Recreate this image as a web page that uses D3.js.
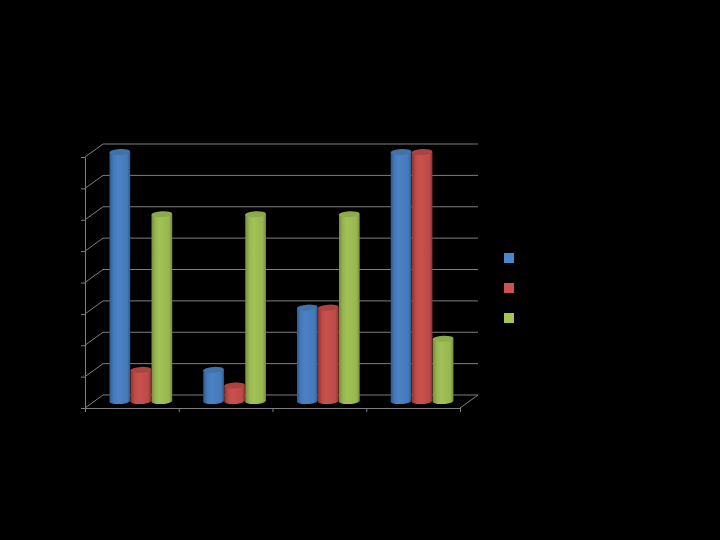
<!DOCTYPE html>
<html><head><meta charset="utf-8">
<script src="https://cdn.jsdelivr.net/npm/d3@7/dist/d3.min.js"></script>
<style>html,body{margin:0;padding:0;background:#000;overflow:hidden}svg{display:block}</style>
</head><body><svg id="c" width="720" height="540"></svg>
<script>
const categories = ["Category 1","Category 2","Category 3","Category 4"];
const seriesNames = ["Series 1","Series 2","Series 3"];
const series1 = [8,1,3,8];
const series2 = [1,0.5,3,8];
const series3 = [6,6,6,2];
const valueTicks = [0,1,2,3,4,5,6,7,8];
const seriesValues = [series1,series2,series3];
const colors = [
 {dark:"#2c5a8e",mid:"#4a82c4",light:"#457aba",top:"#4272aa"},
 {dark:"#8a3331",mid:"#c9514d",light:"#bc4b47",top:"#ac4340"},
 {dark:"#728c3c",mid:"#a2c256",light:"#97b650",top:"#8dab4b"}
];
const legendColors = ["#4a86cc","#d0504e","#a5c454"];
const gridColor = "#7f7f7f";

const svg = d3.select("#c");
const x = d3.scaleBand().domain(categories).range([85,460]);
const y = d3.scaleLinear().domain([0,8]).range([408,157]);
const barY = d3.scaleLinear().domain([0,8]).range([401,152]);
const inner = d3.scaleBand().domain(d3.range(3)).range([24.5,87.5]);
const depthX = 18, depthY = -13, ry = 3, tilt = -3;

const defs = svg.append("defs");
colors.forEach((c,i)=>{
  const g = defs.append("linearGradient").attr("id","g"+i).attr("x1",0).attr("x2",1).attr("y1",0).attr("y2",0);
  [[0,c.dark],[0.2,c.light],[0.4,c.mid],[0.85,c.light],[1,c.dark]].forEach(s=>g.append("stop").attr("offset",s[0]).attr("stop-color",s[1]));
});

// back wall gridlines and side wall
const grid = svg.append("g").attr("stroke",gridColor).attr("stroke-width",1).attr("fill","none");
valueTicks.forEach(t=>{
  grid.append("path").attr("d",d3.line()([[x.range()[0],y(t)],[x.range()[0]+depthX,y(t)+depthY],[x.range()[1]+depthX,y(t)+depthY]]));
});
grid.append("path").attr("d",d3.line()([[x.range()[1],y(0)],[x.range()[1]+depthX,y(0)+depthY]]));

// axes
const axisY = d3.axisLeft(y).tickValues(valueTicks).tickSize(4).tickFormat("").tickSizeOuter(0);
svg.append("g").attr("transform","translate(85,0)").call(axisY).call(g=>g.selectAll("path,line").attr("stroke",gridColor));
const axisX = d3.axisBottom(d3.scaleLinear().domain([0,categories.length]).range(x.range()))
  .tickValues(d3.range(categories.length+1)).tickSize(4).tickFormat("").tickSizeOuter(0);
svg.append("g").attr("transform","translate(0,408)").call(axisX).call(g=>g.selectAll("path,line").attr("stroke",gridColor));

// cylinders
seriesValues.forEach((vals,si)=>{
  const g = svg.append("g");
  vals.forEach((v,ci)=>{
    const w = inner.bandwidth()-0.3;
    const cx0 = x(categories[ci])+inner(si);
    const top = barY(v), base = barY(0);
    const rx = w/2;
    g.append("path")
      .attr("d",`M${cx0},${top}L${cx0},${base}A${rx},${ry} ${tilt} 0 0 ${cx0+w},${base}L${cx0+w},${top}Z`)
      .attr("fill",`url(#g${si})`);
    g.append("ellipse").attr("cx",cx0+rx).attr("cy",top).attr("rx",rx).attr("ry",ry)
      .attr("transform",`rotate(${tilt} ${cx0+rx} ${top})`).attr("fill",colors[si].top);
  });
});

// legend
const ly = d3.scalePoint().domain(seriesNames).range([258,318]);
svg.append("g").selectAll("rect").data(seriesNames).join("rect")
  .attr("x",504).attr("y",d=>ly(d)-5).attr("width",10).attr("height",10)
  .attr("fill",(d,i)=>legendColors[i]);
</script></body></html>
